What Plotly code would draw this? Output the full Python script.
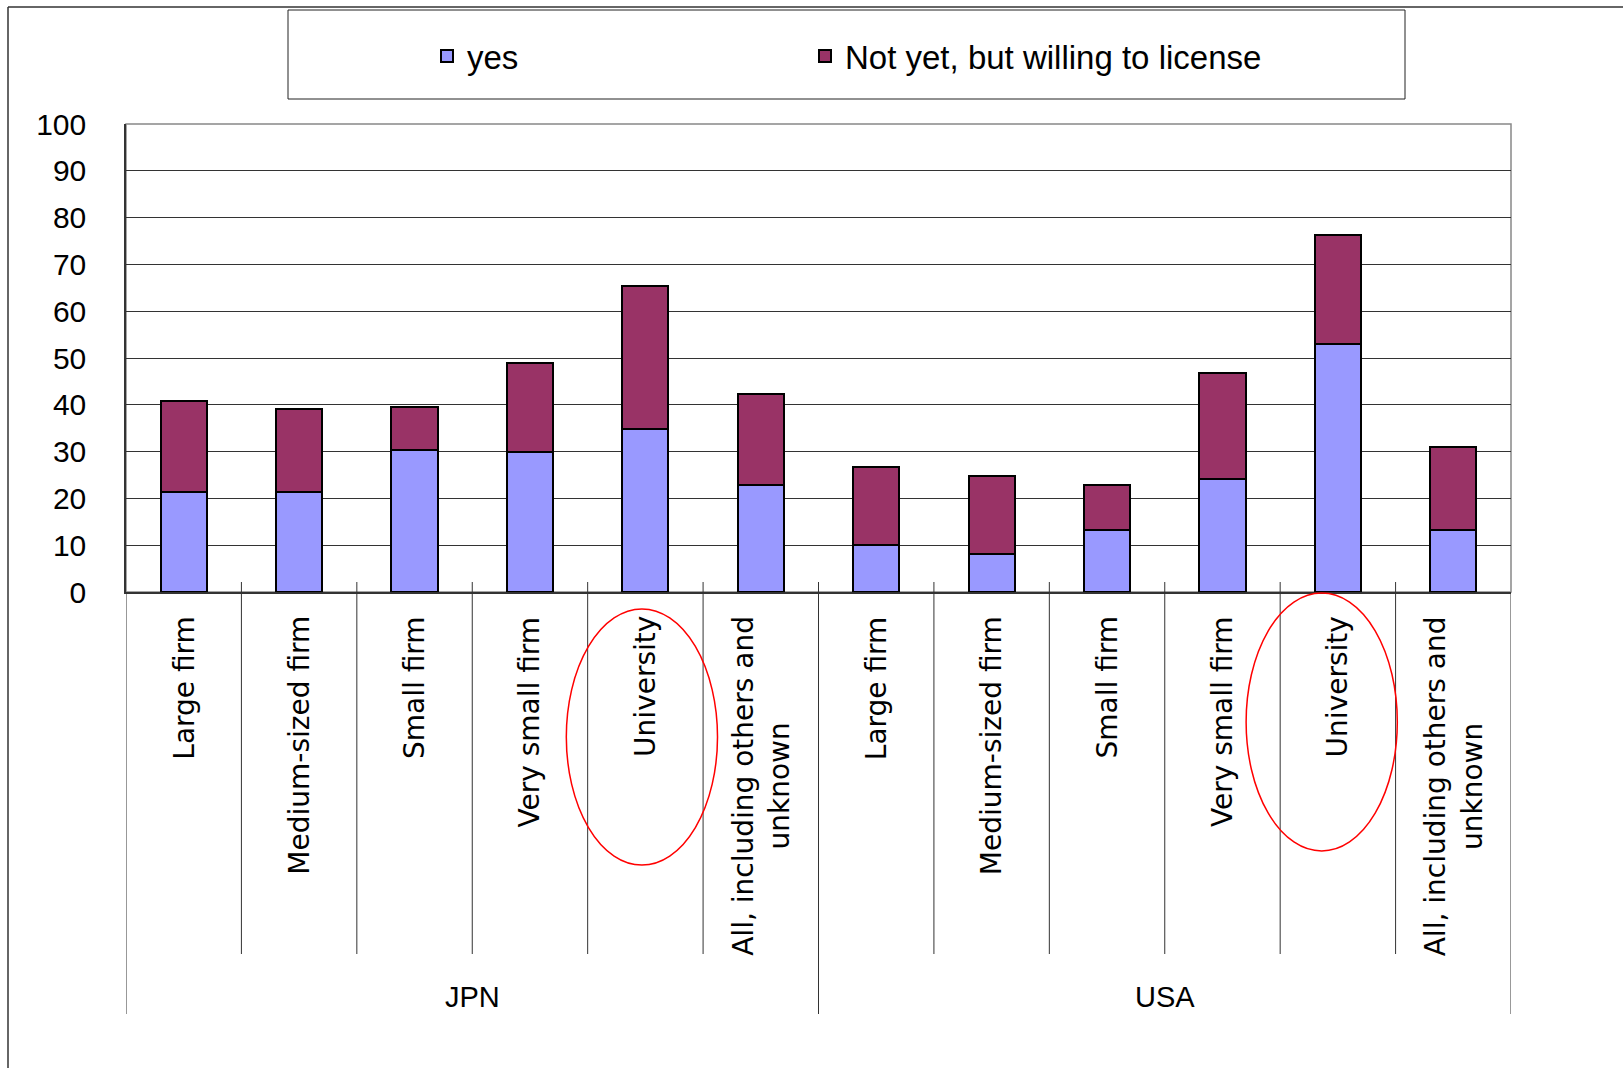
import plotly.graph_objects as go

# ---- data ----
groups = ["JPN", "USA"]
categories = ["Large firm", "Medium-sized firm", "Small firm", "Very small firm",
              "University", "All, including others and<br>unknown"]
yes_jpn = [21.4, 21.4, 30.4, 29.9, 34.8, 22.9]
yes_usa = [10.0, 8.1, 13.3, 24.2, 52.9, 13.3]
notyet_jpn = [19.5, 17.7, 9.2, 19.1, 30.5, 19.5]
notyet_usa = [16.7, 16.7, 9.6, 22.5, 23.3, 17.6]
y_ticks = list(range(0, 101, 10))
highlight = "University"

yes_vals = yes_jpn + yes_usa
notyet_vals = notyet_jpn + notyet_usa
labels = categories + categories
xpos = list(range(len(labels)))

W, H = 1623, 1068
L, R, T, B = 126, 112, 124, 476
PW, PH = W - L - R, H - T - B


def px(xp):
    return (xp - L) / PW


def py(yp):
    return (H - B - yp) / PH


fig = go.Figure()
fig.add_trace(go.Bar(x=xpos, y=yes_vals, name="yes", width=0.4, legend="legend",
                     marker=dict(color="#9999FF", line=dict(color="black", width=2))))
fig.add_trace(go.Bar(x=xpos, y=notyet_vals, name="Not yet, but willing to license", width=0.4,
                     legend="legend2",
                     marker=dict(color="#993366", line=dict(color="black", width=2))))

shapes = []
# outer chart frame (top + left)
shapes.append(dict(type="line", xref="paper", yref="paper", x0=px(8), x1=px(W), y0=py(7), y1=py(7),
                   line=dict(color="#333333", width=1.5)))
shapes.append(dict(type="line", xref="paper", yref="paper", x0=px(8), x1=px(8), y0=py(7), y1=py(H),
                   line=dict(color="#333333", width=1.5)))
# legend box
shapes.append(dict(type="rect", xref="paper", yref="paper", x0=px(288), x1=px(1405), y0=py(10), y1=py(99),
                   line=dict(color="#222222", width=1)))
# plot area border (top/right gray)
shapes.append(dict(type="rect", xref="paper", yref="paper", x0=0, x1=1, y0=0, y1=1,
                   line=dict(color="#888888", width=1.5), layer="below"))

# category separators
n_per = len(categories)
for i in range(len(labels) + 1):
    xb = i - 0.5
    if i % n_per == 0:
        y_top = 0 if i in (0, len(labels)) else py(582)
        shapes.append(dict(type="line", xref="x", yref="paper", x0=xb, x1=xb, y0=y_top, y1=py(1014),
                           line=dict(color="#333333", width=1)))
    else:
        shapes.append(dict(type="line", xref="x", yref="paper", x0=xb, x1=xb, y0=py(582), y1=py(954),
                           line=dict(color="#333333", width=1)))

# red ellipses around University labels
ell = [(-0.03, py(609), py(865)), (-0.14, py(593), py(851))]
k = 0
for i, lab in enumerate(labels):
    if lab == highlight:
        dx, y0, y1 = ell[k]
        k += 1
        shapes.append(dict(type="circle", xref="x", yref="paper", x0=i + dx - 0.655, x1=i + dx + 0.655,
                           y0=y0, y1=y1, line=dict(color="#FF0000", width=1.5)))

annotations = []
for i, lab in enumerate(labels):
    annotations.append(dict(x=i, y=py(614), xref="x", yref="paper", text=lab, textangle=-90,
                            xanchor="center", yanchor="top", align="center", showarrow=False,
                            font=dict(family="DejaVu Sans", size=28, color="black")))
for g, grp in enumerate(groups):
    annotations.append(dict(x=g * n_per + (n_per - 1) / 2, y=py(997), xref="x", yref="paper", text=grp,
                            xanchor="center", yanchor="middle", showarrow=False,
                            font=dict(family="Liberation Sans", size=29, color="black")))

legend_font = dict(family="Liberation Sans", size=33, color="black")
fig.update_layout(
    width=W, height=H,
    margin=dict(l=L, r=R, t=T, b=B, pad=0),
    paper_bgcolor="white", plot_bgcolor="white",
    barmode="stack",
    bargap=0.6,
    showlegend=True,
    legend=dict(orientation="h", x=px(427), y=py(56), xanchor="left", yanchor="middle",
                font=legend_font, bgcolor="rgba(0,0,0,0)"),
    legend2=dict(orientation="h", x=px(805), y=py(56), xanchor="left", yanchor="middle",
                 font=legend_font, bgcolor="rgba(0,0,0,0)"),
    xaxis=dict(range=[-0.5, len(labels) - 0.5], showticklabels=False, showgrid=False, zeroline=False,
               showline=True, linecolor="#333333", linewidth=2, ticks=""),
    yaxis=dict(range=[0, 100], tickvals=y_ticks, showgrid=True, gridcolor="#333333", gridwidth=1,
               zeroline=False, showline=True, linecolor="#333333", linewidth=1.5, ticks="",
               ticklabelstandoff=32,
               tickfont=dict(family="Liberation Sans", size=30, color="black")),
    shapes=shapes,
    annotations=annotations,
)

fig.write_html("out.html")
